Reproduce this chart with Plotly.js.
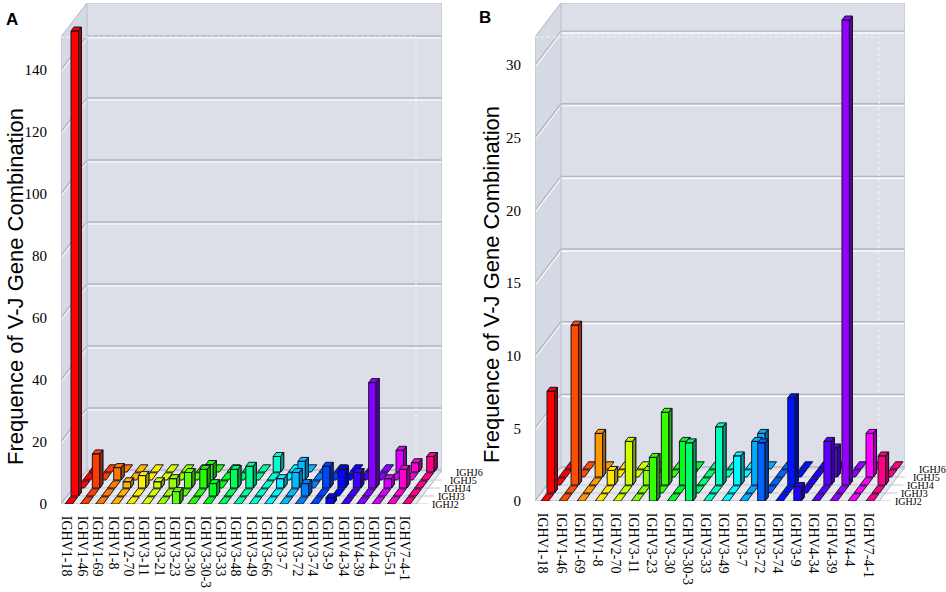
<!DOCTYPE html>
<html><head>
<meta charset="utf-8">
<title>V-J gene combinations</title>
<script src="https://cdn.plot.ly/plotly-3.0.1.min.js"></script>
<style>
    * { margin: 0px; padding: 0px }
    body { background: #fff }
    #chart { width: 946px; height: 592px }
</style>
</head><body>
<div id="chart"></div>
<script>
// ---- data (frequency per V gene, one list per J gene) ----
var jGenes = ['IGHJ2', 'IGHJ3', 'IGHJ4', 'IGHJ5', 'IGHJ6'];

var genesA = ['IGHV1-18','IGHV1-46','IGHV1-69','IGHV1-8','IGHV2-70','IGHV3-11','IGHV3-21','IGHV3-23',
    'IGHV3-30','IGHV3-30-3','IGHV3-33','IGHV3-48','IGHV3-49','IGHV3-66','IGHV3-7','IGHV3-72',
    'IGHV3-74','IGHV3-9','IGHV4-34','IGHV4-39','IGHV4-4','IGHV5-51','IGHV7-4-1'];
var aJ2 = [0,0,0,0,0,0,0,4,0,0,0,0,0,0,0,0,0,2,0,0,0,0,0];
var aJ3 = [150,0,0,0,0,0,0,0,0,4,0,0,0,0,0,4,0,0,0,0,0,0,0];
var aJ4 = [0,11,0,2,4,2,3,5,6,0,6,7,0,3,5,0,7,6,5,34,3,6,0];
var aJ5 = [0,0,4,0,0,0,0,0,5,0,0,0,0,0,6,0,0,0,0,0,0,0,0];
var aJ6 = [0,0,0,0,0,0,0,0,0,0,0,0,5,0,0,0,0,0,0,0,7,3,5];
var ticksA = [0, 20, 40, 60, 80, 100, 120, 140];

var genesB = ['IGHV1-18','IGHV1-46','IGHV1-69','IGHV1-8','IGHV2-70','IGHV3-11','IGHV3-23','IGHV3-30',
    'IGHV3-30-3','IGHV3-33','IGHV3-49','IGHV3-7','IGHV3-72','IGHV3-74','IGHV3-9','IGHV4-34',
    'IGHV4-39','IGHV4-4','IGHV7-4-1'];
var bJ2 = [0,0,0,0,0,0,3,0,4,0,0,0,4,0,1,0,0,0,0];
var bJ3 = [7,0,0,0,0,0,0,0,0,0,0,0,0,0,0,0,0,0,0];
var bJ4 = [0,11,0,1,3,1,5,3,0,4,2,3,0,6,0,3,32,0,2];
var bJ5 = [0,0,3,0,0,0,0,0,0,0,0,3,0,0,0,2,0,3,0];
var bJ6 = [0,0,0,0,0,0,0,0,0,0,0,0,0,0,0,0,0,0,0];
var ticksB = [0, 5, 10, 15, 20, 25, 30];

var yTitle = 'Frequence of V-J Gene Combination';

// ---- look of the fake 3D box (pixels) ----
var W = 946, H = 592;
var panels = [
    {letter: 'A', genes: genesA, rows: [aJ2, aJ3, aJ4, aJ5, aJ6], ticks: ticksA,
     left: 61, right: 442, top: 3, bottom: 504, firstPx: 67, stepPx: 15.35, unitPx: 3.1,
     xa: 'x', ya: 'y', hues: [[0, 0], [17, 238], [19, 272], [22, 330]],
     letterPos: [12, 20], titleX: 15, titleY: 287},
    {letter: 'B', genes: genesB, rows: [bJ2, bJ3, bJ4, bJ5, bJ6], ticks: ticksB,
     left: 535, right: 905, top: 3, bottom: 501, firstPx: 543, stepPx: 18.06, unitPx: 14.53,
     xa: 'x2', ya: 'y2', hues: [[0, 0], [13, 235], [16, 275], [17, 300], [18, 330]],
     letterPos: [485, 18], titleX: 492, titleY: 285}
];
var boxDx = 26, boxDy = 34;     // depth of the box
var rowDx = 6, rowDy = 8;       // shift from one J row to the next
var barW = 7.5, barOff = -2;
var barDepth = 0.5, tileDepth = 0.9;
var edge = '#15152a';

function hueAt(i, anchors){
    for(var k = 1; k < anchors.length; k++){
        if(i <= anchors[k][0]){
            var a = anchors[k-1], b = anchors[k];
            return a[1] + (b[1] - a[1]) * (i - a[0]) / (b[0] - a[0]);
        }
    }
    return anchors[anchors.length-1][1];
}

function shape(p, xs, ys, fill, line, lw, dash){
    var t = {type: 'scatter', mode: 'lines', x: xs, y: ys, xaxis: p.xa, yaxis: p.ya,
        line: {color: line, width: lw, dash: dash || 'solid'},
        hoverinfo: 'skip', showlegend: false};
    if(fill){ t.fill = 'toself'; t.fillcolor = fill; }
    return t;
}

var traces = [];
var layout = {
    width: W, height: H, margin: {l: 0, r: 0, t: 0, b: 0},
    paper_bgcolor: '#fff', plot_bgcolor: 'rgba(0,0,0,0)',
    showlegend: false, hovermode: false,
    annotations: []
};

panels.forEach(function(p, n){
    var xr = [(p.left - p.firstPx) / p.stepPx, (p.right - p.firstPx) / p.stepPx];
    var yr = [0, (p.bottom - p.top) / p.unitPx];
    var ux = 1 / p.stepPx, uy = 1 / p.unitPx;   // data units per pixel
    var BX = boxDx * ux, BY = boxDy * uy;
    var DX = rowDx * ux, DY = rowDy * uy;
    var xL = xr[0], xR = xr[1], yT = yr[1];
    var fR = xR - BX, fT = yT - BY;

    // walls and floor
    traces.push(shape(p, [xL + BX, xR, xR, xL + BX, xL + BX], [BY, BY, yT, yT, BY], '#dcdfe8', '#dcdfe8', 0));
    traces.push(shape(p, [xL, xL + BX, xL + BX, xL, xL], [0, BY, yT, fT, 0], '#d5d9e3', '#d5d9e3', 0));
    traces.push(shape(p, [xL, fR, xR, xL + BX, xL], [0, 0, BY, BY, 0], '#e7e9ee', '#e7e9ee', 0));

    // grid lines on the back and left walls
    var gx = [], gy = [], hx = [], hy = [];
    p.ticks.forEach(function(t){
        gx.push(xL, xL + BX, xR, null); gy.push(t, t + BY, t + BY, null);
        hx.push(xL, xL + BX, xR, null); hy.push(t - 2 * uy, t + BY - 2 * uy, t + BY - 2 * uy, null);
    });
    traces.push(shape(p, hx, hy, null, '#ffffff', 1.2));
    traces.push(shape(p, gx, gy, null, '#b3b7c2', 1.4));

    // floor lines, one per J row, with the row label beside the floor
    var fx = [], fy = [];
    jGenes.forEach(function(j, r){
        var yb = r * DY;
        var edgeX = fR + BX * (yb / BY);
        fx.push(xL + r * DX, edgeX + 12 * ux, null); fy.push(yb, yb, null);
        var lx = p.right - boxDx + boxDx * (r * rowDy / boxDy) + 14;
        var ly = p.bottom - r * rowDy;
        layout.annotations.push({xref: 'paper', yref: 'paper', x: lx / W, y: 1 - ly / H,
            text: j, showarrow: false, xanchor: 'left', yanchor: 'middle',
            font: {family: 'Liberation Serif', size: 10, color: '#000'}});
    });
    traces.push(shape(p, fx, fy, null, '#c3c7d1', 1));

    // box edges and the dotted front frame
    traces.push(shape(p, [xL, xL, xL + BX, xR, xR, fR, xL, null, xL + BX, xL + BX],
        [0, fT, yT, yT, BY, 0, 0, null, BY, yT], null, '#bfc3cd', 1.2));
    traces.push(shape(p, [xL, fR, fR], [fT, fT, 0], null, '#f4f5f8', 1, 'dot'));

    // bars, left to right, back row first
    var w = barW * ux;
    p.genes.forEach(function(g, i){
        var h = hueAt(i, p.hues);
        var main = 'hsl(' + h.toFixed(0) + ',100%,50%)';
        var dark = 'hsl(' + h.toFixed(0) + ',100%,32%)';
        for(var r = jGenes.length - 1; r >= 0; r--){
            var v = p.rows[r][i];
            var x0 = i + barOff * ux + r * DX, x1 = x0 + w;
            var b = r * DY, t = b + v;
            if(v > 0){
                var cx = barDepth * DX, cy = barDepth * DY;
                // outline with the inner edges traced as zero-area spikes
                traces.push(shape(p,
                    [x0, x1, x1 + cx, x1 + cx, x0 + cx, x0, x1, x1, x1, x1 + cx, x1, x0, x0],
                    [b, b, b + cy, t + cy, t + cy, t, t, b, t, t + cy, t, t, b],
                    main, edge, 1));
                traces.push(shape(p, [x1, x1 + cx, x1 + cx, x1, x1],
                    [b, b + cy, t + cy, t, b], dark, edge, 1));
            } else {
                var tx = tileDepth * DX, ty = tileDepth * DY;
                traces.push(shape(p, [x0, x1, x1 + tx, x0 + tx, x0],
                    [b, b, b + ty, b + ty, b], main, edge, 1));
            }
        }
    });

    var suf = n === 0 ? '' : '2';
    layout['xaxis' + suf] = {
        domain: [p.left / W, p.right / W], range: xr, fixedrange: true,
        showgrid: false, zeroline: false, showline: false,
        tickmode: 'array', tickvals: p.genes.map(function(g, i){ return i; }), ticktext: p.genes,
        tickangle: 90, ticks: 'outside', ticklen: 8, tickcolor: 'rgba(0,0,0,0)',
        tickfont: {family: 'Liberation Serif', size: 14, color: '#000'},
        anchor: p.ya
    };
    layout['yaxis' + suf] = {
        domain: [1 - p.bottom / H, 1 - p.top / H], range: yr, fixedrange: true,
        showgrid: false, zeroline: false, showline: false,
        tickmode: 'array', tickvals: p.ticks,
        ticks: 'outside', ticklen: 10, tickcolor: 'rgba(0,0,0,0)',
        tickfont: {family: 'Liberation Serif', size: 15, color: '#000'},
        anchor: p.xa
    };
    layout.annotations.push({xref: 'paper', yref: 'paper',
        x: p.letterPos[0] / W, y: 1 - p.letterPos[1] / H, text: '<b>' + p.letter + '</b>',
        showarrow: false, xanchor: 'center', yanchor: 'middle',
        font: {family: 'Liberation Sans', size: 17, color: '#000'}});
    layout.annotations.push({xref: 'paper', yref: 'paper',
        x: p.titleX / W, y: 1 - p.titleY / H, text: yTitle, textangle: -90,
        showarrow: false, xanchor: 'center', yanchor: 'middle',
        font: {family: 'Liberation Sans', size: 22, color: '#000'}});
});

Plotly.newPlot('chart', traces, layout, {staticPlot: true, displayModeBar: false});
</script>
</body></html>
